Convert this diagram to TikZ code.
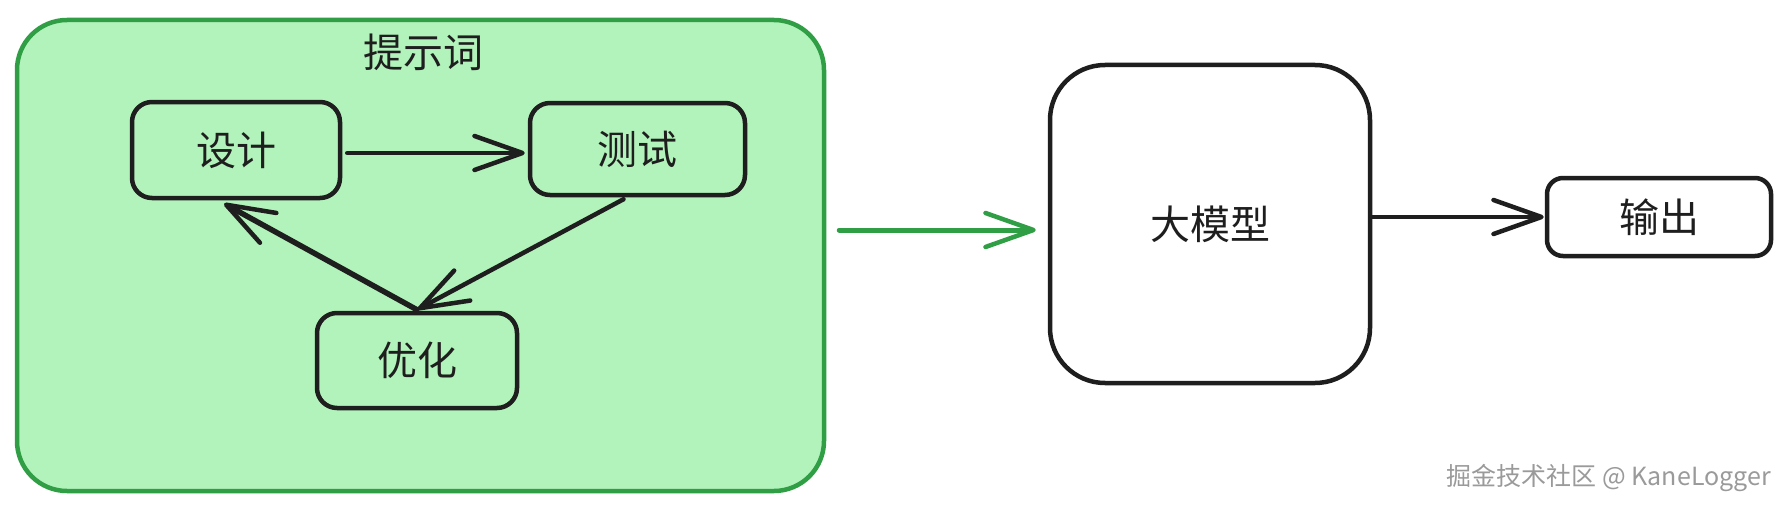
\documentclass[tikz,border=0pt]{standalone}
\usepackage{fontspec}
\setmainfont{Noto Sans CJK SC}
\usetikzlibrary{arrows.meta}
\definecolor{gfill}{HTML}{B2F2BB}
\definecolor{gstroke}{HTML}{2F9E44}
\definecolor{ink}{HTML}{1E1E1E}
\definecolor{wmgray}{HTML}{9A9A9A}
\begin{document}
\begin{tikzpicture}[x=1pt,y=-1pt,
  labelfont/.style={font=\fontsize{40}{48}\selectfont, text=ink},
  group/.style={draw=gstroke, fill=gfill, line width=4.5pt, rounded corners=50pt, inner sep=0pt},
  stepbox/.style={draw=ink, fill=gfill, line width=4.5pt, rounded corners=20pt, inner sep=0pt, labelfont},
  plainbox/.style={draw=ink, fill=white, line width=4.5pt, inner sep=0pt, labelfont},
  arr/.style={draw=ink, line width=4.5pt, line cap=round,
    -{Straight Barb[length=48pt,width=34pt,line width=4.5pt,round]}},
  thickarr/.style={arr, line width=5.5pt},
  garr/.style={arr, draw=gstroke, line width=5pt},
]
\useasboundingbox (0,0) rectangle (1789,511);
\fill[white] (0,0) rectangle (1789,511);

% group
\node[group, minimum width=807pt, minimum height=471pt] (prompt) at (420.5,255.5) {};
\node[labelfont] (title) at (423,52) {提示词};

% steps
\node[stepbox, minimum width=208pt, minimum height=96pt] (sheji) at (236,150) {设计};
\node[stepbox, minimum width=215pt, minimum height=92pt] (ceshi) at (637.5,149) {测试};
\node[stepbox, minimum width=200pt, minimum height=95pt] (youhua) at (417,360.5) {优化};

% model and output
\node[plainbox, rounded corners=55pt, minimum width=320pt, minimum height=318pt] (llm) at (1210,224) {大模型};
\node[plainbox, rounded corners=16pt, minimum width=224pt, minimum height=78pt] (out) at (1659,217) {输出};

% watermark
\node[anchor=east, font=\fontsize{25}{30}\selectfont, text=wmgray, inner sep=0pt] (wm) at (1771,478) {掘金技术社区 @ KaneLogger};

% connectors
\draw[arr, shorten <=5pt, shorten >=3pt] ([yshift=-3pt]sheji.east) -- ([yshift=-3pt]sheji.east -| ceshi.west);
\draw[arr, shorten >=1pt] ([xshift=-14pt,yshift=-2pt]ceshi.south) -- ([yshift=1pt]youhua.north);
\draw[thickarr, shorten >=7pt] ([yshift=1pt]youhua.north) -- ([xshift=-18pt]sheji.south);
\draw[garr, shorten <=13pt, shorten >=12pt] ([yshift=25.5pt]prompt.east) -- ([yshift=25.5pt]prompt.east -| llm.west);
\draw[arr, shorten >=1pt] (llm.east |- out.west) -- (out.west);
\end{tikzpicture}
\end{document}
